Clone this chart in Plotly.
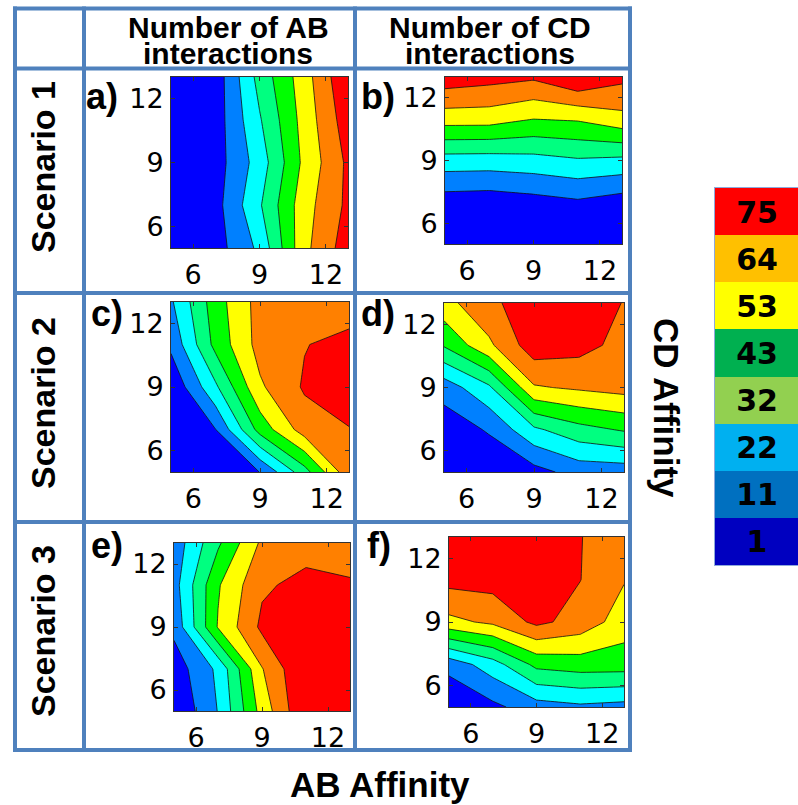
import plotly.graph_objects as go

W, H = 798, 805

# ---------------- data ----------------
affinity_grid = [5, 7, 9, 11, 13]          # AB affinity (x) and CD affinity (y) sample points
tick_vals = [6, 9, 12]
tick_text = ["6", "9", "12"]

# contour levels (band edges)
level_start, level_end, level_size = 11.6, 75.2, 10.6

# rows: CD affinity 5,7,9,11,13 ; columns: AB affinity 5,7,9,11,13
panel_a = [  # Scenario 1, number of AB interactions
    [1.0, 6.8, 24.5, 61.5, 80.8],
    [1.0, 7.6, 31.5, 60.1, 77.5],
    [1.0, 6.6, 26.9, 56.3, 77.3],
    [1.0, 6.0, 31.7, 57.9, 81.1],
    [1.0, 5.3, 36.6, 59.6, 85.0],
]
panel_b = [  # Scenario 1, number of CD interactions
    [2.1, 2.1, 2.1, 2.1, 2.1],
    [6.1, 5.3, 7.5, 10.1, 6.5],
    [28.0, 27.7, 28.9, 31.6, 30.2],
    [59.0, 58.8, 54.2, 55.3, 61.3],
    [81.5, 79.1, 76.9, 85.6, 78.0],
]
panel_c = [  # Scenario 2, AB
    [1.0, 1.0, 11.8, 39.2, 72.0],
    [1.5, 11.4, 47.6, 69.7, 74.8],
    [2.7, 30.9, 63.0, 76.5, 80.5],
    [14.0, 46.6, 68.6, 74.7, 78.9],
    [20.7, 49.1, 68.8, 72.6, 68.8],
]
panel_d = [  # Scenario 2, CD
    [1.0, 3.1, 7.8, 15.8, 16.4],
    [5.1, 12.7, 30.7, 39.7, 44.4],
    [16.2, 30.9, 63.5, 66.2, 68.6],
    [44.4, 62.5, 81.3, 78.8, 71.9],
    [60.9, 72.6, 81.6, 82.6, 74.7],
]
panel_e = [  # Scenario 3, AB
    [1.4, 22.6, 58.1, 85.8, 85.8],
    [5.6, 24.4, 64.0, 86.4, 83.7],
    [14.4, 54.8, 77.5, 81.6, 80.5],
    [18.0, 52.9, 73.6, 78.2, 75.9],
    [15.8, 41.6, 66.7, 71.0, 72.0],
]
panel_f = [  # Scenario 3, CD
    [1.0, 9.0, 17.5, 20.2, 18.5],
    [15.5, 28.0, 46.3, 48.7, 48.5],
    [61.7, 66.7, 77.7, 71.1, 59.3],
    [78.8, 79.5, 83.7, 75.4, 65.3],
    [81.6, 81.6, 83.7, 75.5, 69.9],
]
panel_labels = ["a)", "b)", "c)", "d)", "e)", "f)"]
column_titles = [["Number of AB", "interactions"], ["Number of CD", "interactions"]]
row_titles = ["Scenario 1", "Scenario 2", "Scenario 3"]
x_title = "AB Affinity"
y_title = "CD Affinity"

legend_values = [1, 11, 22, 32, 43, 53, 64, 75]
legend_labels = ["1", "11", "22", "32", "43", "53", "64", "75"]
legend_colors = ["#0000C0", "#0070C0", "#00B0F0", "#92D050",
                 "#00B050", "#FFFF00", "#FFC000", "#FF0000"]
contour_colors = ["#0000FF", "#0080FF", "#00FFFF", "#00FF80",
                  "#00FF00", "#FFFF00", "#FF8000", "#FF0000"]

# ---------------- layout geometry (pixels) ----------------
panels = [panel_a, panel_b, panel_c, panel_d, panel_e, panel_f]
boxes = [  # left, right, top, bottom
    (171, 348, 77, 248),
    (445, 622, 77, 244),
    (171, 349, 302, 472),
    (444, 624, 303, 472),
    (174, 350, 543, 711),
    (449, 624, 537, 707),
]
label_pos = [(85, 96), (360, 96), (90, 313), (360, 313), (90, 545), (366, 545)]

def fx(px):
    return px / W

def fy(py):
    return 1 - py / H

fig = go.Figure()
cscale = [[i / (len(contour_colors) - 1), c] for i, c in enumerate(contour_colors)]

layout = {}
for i, (z, (l, r, t, b)) in enumerate(zip(panels, boxes), start=1):
    fig.add_trace(go.Contour(
        x=affinity_grid, y=affinity_grid, z=z,
        xaxis=f"x{i}", yaxis=f"y{i}",
        autocontour=False,
        contours=dict(start=level_start, end=level_end, size=level_size,
                      coloring="fill", showlines=True),
        line=dict(color="#111111", width=0.8, smoothing=0),
        colorscale=cscale, showscale=False, hoverinfo="skip",
    ))
    common = dict(range=[5, 13], tickvals=tick_vals, ticktext=tick_text,
                  ticks="inside", ticklen=4, tickwidth=1, tickcolor="#333333",
                  showline=True, mirror="ticks", linecolor="#333333", linewidth=1,
                  showgrid=False, zeroline=False, fixedrange=True,
                  tickfont=dict(family="DejaVu Sans", size=27, color="black"))
    layout[f"xaxis{i}"] = dict(domain=[fx(l), fx(r)], anchor=f"y{i}",
                               ticklabelstandoff=3, **common)
    layout[f"yaxis{i}"] = dict(domain=[fy(b), fy(t)], anchor=f"x{i}",
                               ticklabelstandoff=1, **common)

# colour key as a heatmap
key_scale = [[(v - legend_values[0]) / (legend_values[-1] - legend_values[0]), c]
             for v, c in zip(legend_values, legend_colors)]
fig.add_trace(go.Heatmap(
    z=[[v] for v in legend_values], x=[0], y=list(range(len(legend_values))),
    text=[[s] for s in legend_labels], texttemplate="<b>%{text}</b>",
    textfont=dict(family="DejaVu Sans", size=30, color="black"),
    colorscale=key_scale, zmin=legend_values[0], zmax=legend_values[-1],
    showscale=False, xaxis="x7", yaxis="y7", hoverinfo="skip",
))
layout["xaxis7"] = dict(domain=[fx(715), 1.0], anchor="y7", range=[-0.5, 0.5],
                        showticklabels=False, ticks="", showgrid=False, zeroline=False,
                        showline=True, mirror=True, linecolor="#8EA9DB", linewidth=1)
layout["yaxis7"] = dict(domain=[fy(565), fy(188)], anchor="x7", range=[-0.5, 7.5],
                        showticklabels=False, ticks="", showgrid=False, zeroline=False,
                        showline=True, mirror=True, linecolor="#8EA9DB", linewidth=1)

# table frame
frame_col = "#4F81BD"
shapes = []
h_lines = [8.5, 68.5, 293, 522, 750]
v_lines = [15, 84, 355, 630]
for yy in h_lines:
    shapes.append(dict(type="line", xref="paper", yref="paper",
                       x0=fx(v_lines[0] - 2), x1=fx(v_lines[-1] + 2), y0=fy(yy), y1=fy(yy),
                       line=dict(color=frame_col, width=4)))
for xx in v_lines:
    shapes.append(dict(type="line", xref="paper", yref="paper",
                       x0=fx(xx), x1=fx(xx), y0=fy(h_lines[0] - 2), y1=fy(h_lines[-1] + 2),
                       line=dict(color=frame_col, width=4)))

ann = []
def add_text(text, x, y, size, angle=0, xanchor="center", family="Liberation Sans"):
    ann.append(dict(text=f"<b>{text}</b>", x=fx(x), y=fy(y), xref="paper", yref="paper",
                    xanchor=xanchor, yanchor="middle", showarrow=False, textangle=angle,
                    borderpad=0,
                    font=dict(family=family, size=size, color="black")))

for (l1, l2), cx in zip(column_titles, [228, 490]):
    add_text(l1, cx, 27.5, 30)
    add_text(l2, cx, 53.5, 30)
for t, cy in zip(row_titles, [167, 403, 631]):
    add_text(t, 43, cy, 34, angle=-90)
for t, (lx, ly) in zip(panel_labels, label_pos):
    add_text(t, lx, ly, 36, xanchor="left")
add_text(x_title, 380, 784, 35)
add_text(y_title, 667, 408, 35, angle=90)

fig.update_layout(width=W, height=H, margin=dict(l=0, r=0, t=0, b=0, pad=0),
                  paper_bgcolor="white", plot_bgcolor="white", showlegend=False,
                  shapes=shapes, annotations=ann, **layout)

fig.write_html("out.html")
